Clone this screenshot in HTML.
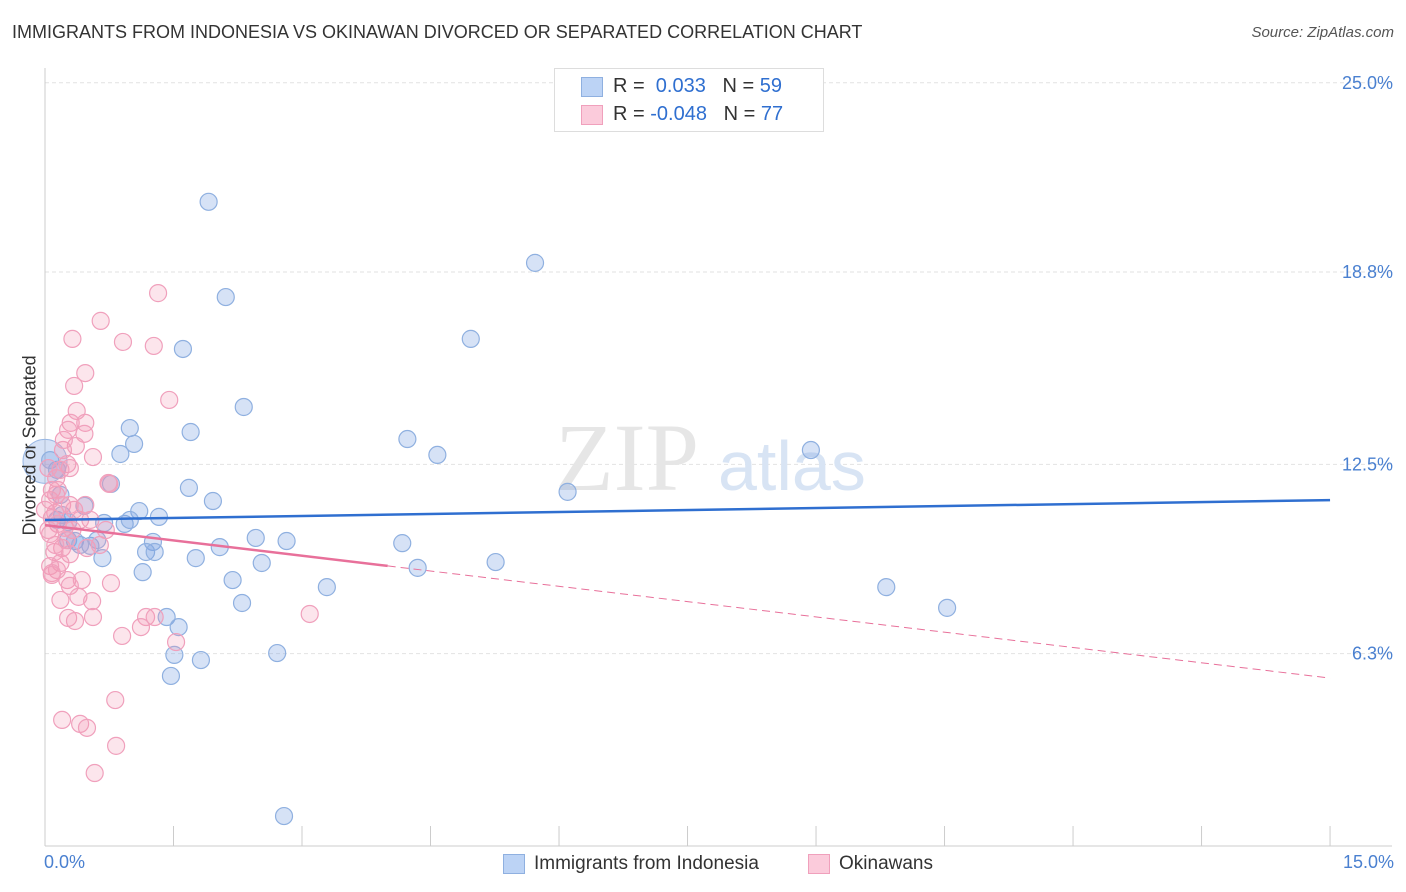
<!DOCTYPE html>
<html><head><meta charset="utf-8"><style>
body{margin:0;background:#fff;font-family:"Liberation Sans",sans-serif;}
#wrap{position:relative;width:1406px;height:892px;overflow:hidden;}
.t{position:absolute;white-space:nowrap;}
</style></head><body>
<div id="wrap">
<div class="t" style="left:12px;top:22px;font-size:18px;color:#333;">IMMIGRANTS FROM INDONESIA VS OKINAWAN DIVORCED OR SEPARATED CORRELATION CHART</div>
<div class="t" style="right:12px;top:24px;font-size:15px;color:#555;font-style:italic;">Source: ZipAtlas.com</div>
<svg id="svg" width="1406" height="892" style="position:absolute;left:0;top:0"></svg>
</div>
<script>
const xTicks=[0,1.5,3,4.5,6,7.5,9,10.5,12,13.5,15];
const yTickVals=[6.3,12.5,18.8,25];
const yTickLabels=["6.3%","12.5%","18.8%","25.0%"];
const blueX=[1.91,5.72,2.11,1.61,4.97,2.32,0.99,1.70,1.04,0.88,4.23,4.58,8.94,0.77,1.68,1.96,6.10,0.46,1.10,0.14,0.69,0.93,1.33,0.27,0.35,0.53,0.61,1.26,1.18,1.28,2.04,2.46,2.82,4.17,0.67,1.76,2.53,4.35,5.26,1.14,2.19,3.29,9.82,2.30,10.53,1.42,1.56,1.51,1.82,2.71,1.47,2.79,0.14,0.06,0.18,0.27,0.41,0.99,0.20];
const blueY=[21.10,19.10,17.98,16.28,16.61,14.38,13.69,13.56,13.17,12.84,13.33,12.81,12.97,11.86,11.73,11.30,11.60,11.14,10.97,10.68,10.58,10.55,10.78,10.61,9.99,9.83,10.02,9.96,9.63,9.63,9.79,10.09,9.99,9.92,9.43,9.43,9.27,9.11,9.30,8.97,8.71,8.48,8.48,7.96,7.80,7.50,7.17,6.26,6.09,6.32,5.57,0.98,12.32,12.64,11.50,10.02,9.86,10.68,10.84];
const pinkX=[1.32,0.65,0.32,0.91,1.27,0.47,0.34,1.45,0.37,0.30,0.47,0.27,0.46,0.36,0.21,0.56,0.26,0.29,0.18,0.13,0.75,0.74,0.08,0.13,0.20,0.12,0.41,0.08,0.15,0.23,0.32,0.04,0.06,0.71,0.20,0.49,0.11,0.29,0.18,0.06,0.14,0.08,0.26,0.43,0.77,0.29,0.39,0.55,1.18,1.28,3.09,0.27,0.56,0.35,1.12,0.90,1.53,0.82,0.20,0.41,0.49,0.83,0.58,0.04,0.06,0.25,0.34,0.53,0.12,0.18,0.64,0.00,0.15,0.22,0.08,0.47,0.29];
const pinkY=[18.11,17.20,16.61,16.51,16.38,15.49,15.07,14.61,14.25,13.86,13.86,13.63,13.50,13.10,12.97,12.74,12.51,12.38,12.32,12.05,11.86,11.89,11.66,11.50,11.17,10.91,10.68,10.74,10.55,10.42,10.35,10.35,10.22,10.35,9.76,9.76,9.63,9.56,9.27,9.17,9.04,8.94,8.71,8.71,8.61,8.52,8.16,8.02,7.50,7.50,7.60,7.47,7.50,7.37,7.17,6.88,6.68,4.78,4.13,4.00,3.87,3.28,2.39,12.38,11.33,10.02,11.01,10.68,9.86,8.06,9.86,11.01,11.66,13.30,8.88,11.17,11.17];
const blueTrend=[10.68,11.33];
const pinkTrend=[10.51,5.50];
const pinkSolidEnd=4.0;

const X=v=>45+v*85.67, Y=v=>846-v*30.53;
const svg=document.getElementById('svg');
const NS='http://www.w3.org/2000/svg';
function mk(tag,attrs,name){const e=document.createElementNS(NS,tag);for(const k in attrs)e.setAttribute(k,attrs[k]);


svg.appendChild(e);return e;}
yTickVals.forEach((v,i)=>{
 mk('line',{x1:45,x2:1392,y1:Y(v),y2:Y(v),stroke:'#e2e2e2','stroke-dasharray':'4,3'},'gridline');
 const t=mk('text',{x:1393,y:Y(v)+6,'text-anchor':'end','font-size':18,fill:'#4a80d0','font-family':'Liberation Sans'},'y-tick-label');t.textContent=yTickLabels[i];
});
mk('line',{x1:45,x2:45,y1:68,y2:846,stroke:'#ccc'},'y-axis');
mk('line',{x1:45,x2:1392,y1:846,y2:846,stroke:'#ccc'},'x-axis');
xTicks.forEach(v=>mk('line',{x1:X(v),x2:X(v),y1:826,y2:846,stroke:'#ccc'},'x-tick'));
const wm=mk('text',{x:555,y:490,'font-size':96,fill:'#e6e6e6','font-family':'Liberation Serif'},'watermark-zip');wm.textContent='ZIP';
const wm2=mk('text',{x:718,y:490,'font-size':70,fill:'#d8e4f4','font-family':'Liberation Sans'},'watermark-atlas');wm2.textContent='atlas';
mk('circle',{cx:X(0),cy:Y(12.6),r:22,fill:'rgba(120,160,225,0.3)',stroke:'#9ab8e4'},'blue-point-large');
blueX.forEach((x,i)=>mk('circle',{cx:X(x),cy:Y(blueY[i]),r:8.5,fill:'rgba(120,160,225,0.3)',stroke:'#8fb0e0','stroke-width':1.2},'blue-point'));
pinkX.forEach((x,i)=>mk('circle',{cx:X(x),cy:Y(pinkY[i]),r:8.5,fill:'rgba(245,150,180,0.25)',stroke:'#f0a0bc','stroke-width':1.2},'pink-point'));
mk('line',{x1:X(0),y1:Y(blueTrend[0]),x2:X(15),y2:Y(blueTrend[1]),stroke:'#2f6fd0','stroke-width':2.5},'blue-trendline');
const py=v=>pinkTrend[0]+(pinkTrend[1]-pinkTrend[0])*v/15;
mk('line',{x1:X(0),y1:Y(py(0)),x2:X(pinkSolidEnd),y2:Y(py(pinkSolidEnd)),stroke:'#e8709a','stroke-width':2.5},'pink-trendline');
mk('line',{x1:X(pinkSolidEnd),y1:Y(py(pinkSolidEnd)),x2:X(15),y2:Y(py(15)),stroke:'#e8709a','stroke-width':1,'stroke-dasharray':'8,5'},'pink-trendline-dashed');
</script>
<div class="t" style="left:-50px;top:445px;font-size:18px;color:#333;transform:rotate(-90deg);transform-origin:center;width:160px;text-align:center;">Divorced or Separated</div>
<div class="t" style="left:44px;top:852px;font-size:18px;color:#4a80d0;">0.0%</div>
<div class="t" style="right:12px;top:852px;font-size:18px;color:#4a80d0;">15.0%</div>
<div style="position:absolute;left:554px;top:68px;width:268px;height:62px;border:1px solid #ddd;background:#fff;font-size:20px;">
 <div style="position:absolute;left:26px;top:8px;width:20px;height:18px;background:#bcd3f5;border:1px solid #8fb0e0;"></div>
 <div class="t" style="left:58px;top:6px;color:#333;">R = <span style="color:#2f6fd0">&nbsp;0.033</span>&nbsp;&nbsp;&nbsp;N = <span style="color:#2f6fd0">59</span></div>
 <div style="position:absolute;left:26px;top:36px;width:20px;height:18px;background:#fbcbdb;border:1px solid #f0a0bc;"></div>
 <div class="t" style="left:58px;top:34px;color:#333;">R = <span style="color:#2f6fd0">-0.048</span>&nbsp;&nbsp;&nbsp;N = <span style="color:#2f6fd0">77</span></div>
</div>
<div style="position:absolute;left:503px;top:854px;width:20px;height:18px;background:#bcd3f5;border:1px solid #8fb0e0;"></div>
<div class="t" style="left:534px;top:853px;font-size:19px;color:#333;">Immigrants from Indonesia</div>
<div style="position:absolute;left:808px;top:854px;width:20px;height:18px;background:#fbcbdb;border:1px solid #f0a0bc;"></div>
<div class="t" style="left:839px;top:853px;font-size:19px;color:#333;">Okinawans</div>
</body></html>
